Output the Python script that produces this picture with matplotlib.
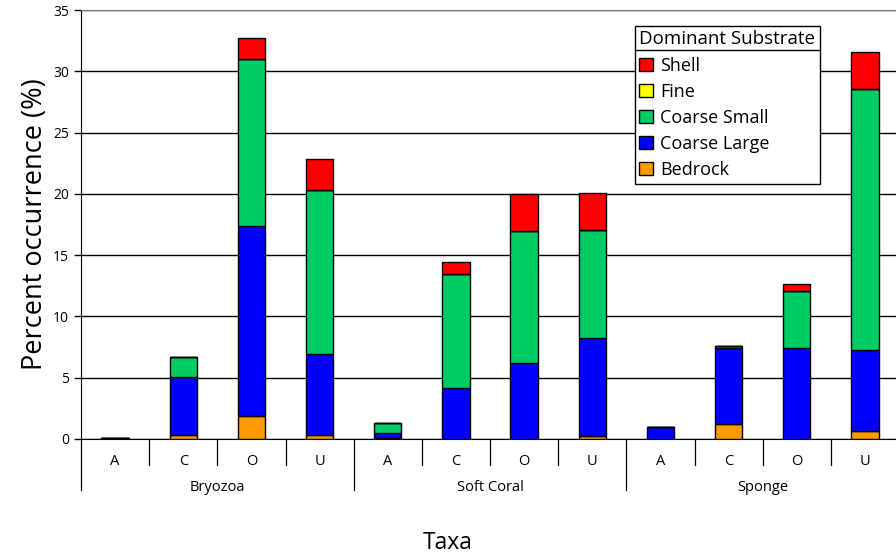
import numpy as np
import matplotlib.pyplot as plt
import matplotlib.transforms as mtransforms
from matplotlib.lines import Line2D

plt.rcParams['font.family'] = ['Open Sans', 'DejaVu Sans']

groups = ["Bryozoa", "Soft Coral", "Sponge"]
codes = ["A", "C", "O", "U"]

# segment heights, bottom to top, one value per bar (group x code)
bedrock = [0.0, 0.35, 1.88, 0.30, 0.05, 0.0, 0.0, 0.25, 0.0, 1.22, 0.0, 0.68]
coarse_large = [0.10, 4.73, 15.52, 6.63, 0.44, 4.20, 6.20, 8.00, 1.00, 6.18, 7.40, 6.55]
coarse_small = [0.0, 1.58, 13.60, 13.42, 0.81, 9.25, 10.75, 8.80, 0.0, 0.15, 4.67, 21.32]
fine = [0.0] * 12
shell = [0.0, 0.0, 1.70, 2.50, 0.0, 0.95, 3.05, 3.05, 0.0, 0.0, 0.57, 3.05]

series = [
    ("Bedrock", bedrock, "#FF9900"),
    ("Coarse Large", coarse_large, "#0000FF"),
    ("Coarse Small", coarse_small, "#00CC66"),
    ("Fine", fine, "#FFFF00"),
    ("Shell", shell, "#FF0000"),
]

fig = plt.figure(figsize=(8.96, 5.57), dpi=100)
ax = fig.add_axes([81 / 896, 1 - 439 / 557, 818 / 896, 429 / 557])

x = np.arange(len(groups) * len(codes))
bottom = np.zeros(len(x))
handles = {}
for name, vals, color in series:
    vals = np.array(vals)
    h = ax.bar(x, vals, width=0.4, bottom=bottom, color=color,
               edgecolor="black", linewidth=1, zorder=3, label=name)
    handles[name] = h
    bottom += vals

ax.set_xlim(-0.5, len(x) - 0.5)
ax.set_ylim(0, 35)
ax.set_yticks(range(0, 36, 5))
ax.yaxis.grid(True, color="black", linewidth=1)
ax.set_axisbelow(True)
ax.tick_params(axis="y", labelsize=10, length=5, width=1)
ax.set_xticks([])
ax.spines["right"].set_visible(False)
ax.spines["top"].set_color("#777777")
ax.spines["left"].set_color("black")
ax.spines["bottom"].set_color("black")

ax.set_ylabel("Percent occurrence (%)", fontsize=19.5, labelpad=3)

# two-level category axis
trans = mtransforms.blended_transform_factory(ax.transData, ax.transAxes)
for i in range(len(x) + 1):
    b = i - 0.5
    depth = -0.119 if i % len(codes) == 0 else -0.0606
    ax.plot([b, b], [0, depth], color="black", linewidth=0.9,
            transform=trans, clip_on=False)
for i, xi in enumerate(x):
    ax.text(xi, -0.0536, codes[i % len(codes)], transform=trans,
            ha="center", va="center", fontsize=10.5)
for g, name in enumerate(groups):
    ax.text(g * len(codes) + (len(codes) - 1) / 2, -0.112, name,
            transform=trans, ha="center", va="center", fontsize=10.5)

fig.text(0.5, 1 - 543 / 557, "Taxa", ha="center", va="center", fontsize=16.5)

order = ["Shell", "Fine", "Coarse Small", "Coarse Large", "Bedrock"]
leg = ax.legend([handles[n] for n in order], order, title="Dominant Substrate",
                loc="upper left", bbox_to_anchor=(0.677, 0.963),
                fontsize=13, title_fontsize=13.5, frameon=True, fancybox=False,
                edgecolor="black", framealpha=1, borderpad=0.25,
                labelspacing=0.45, handlelength=0.75, handleheight=0.75,
                handletextpad=0.4, borderaxespad=0, alignment="left")
leg.get_frame().set_linewidth(1)
leg.set_zorder(5)

fig.canvas.draw()
lb = leg.get_window_extent()
tb = leg.get_title().get_window_extent()
yline = tb.y0 - 2
line = Line2D([lb.x0, lb.x1], [yline, yline], color="black", linewidth=1,
              transform=None, zorder=6)
fig.add_artist(line)

fig.savefig("out.png", dpi=100)
